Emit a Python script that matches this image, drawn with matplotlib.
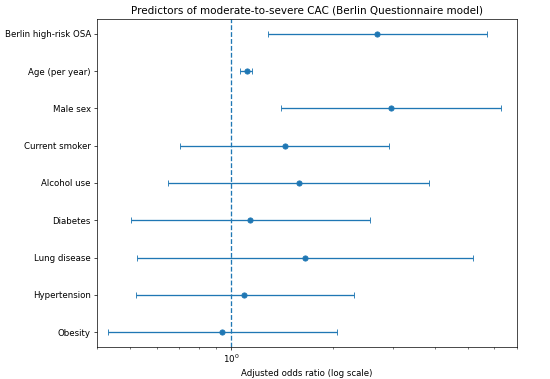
import numpy as np
import matplotlib
matplotlib.use("Agg")
import matplotlib.pyplot as plt

# Predictors, top to bottom as shown
labels = [
    "Berlin high-risk OSA",
    "Age (per year)",
    "Male sex",
    "Current smoker",
    "Alcohol use",
    "Diabetes",
    "Lung disease",
    "Hypertension",
    "Obesity",
]
odds_ratio = [2.70, 1.11, 2.97, 1.44, 1.58, 1.135, 1.65, 1.09, 0.94]
ci_low     = [1.28, 1.063, 1.40, 0.704, 0.647, 0.503, 0.527, 0.521, 0.431]
ci_high    = [5.72, 1.15, 6.26, 2.935, 3.83, 2.57, 5.20, 2.30, 2.05]

DPI = 62.5
y = np.arange(len(labels))[::-1]
err = np.array([np.subtract(odds_ratio, ci_low), np.subtract(ci_high, odds_ratio)])

fig, ax = plt.subplots(figsize=(550 / DPI, 379 / DPI), dpi=DPI)
fig.subplots_adjust(left=0.1764, right=0.94, top=0.95, bottom=0.0844)

ax.errorbar(odds_ratio, y, xerr=err, fmt="o", capsize=3, color="C0")
ax.axvline(1.0, linestyle="--", color="C0")

ax.set_xscale("log")
ax.set_xlim(0.4, 7.0)
ax.set_yticks(y)
ax.set_yticklabels(labels)
ax.set_xlabel("Adjusted odds ratio (log scale)")
ax.set_title("Predictors of moderate-to-severe CAC (Berlin Questionnaire model)")

fig.savefig("out.png", dpi=DPI)
